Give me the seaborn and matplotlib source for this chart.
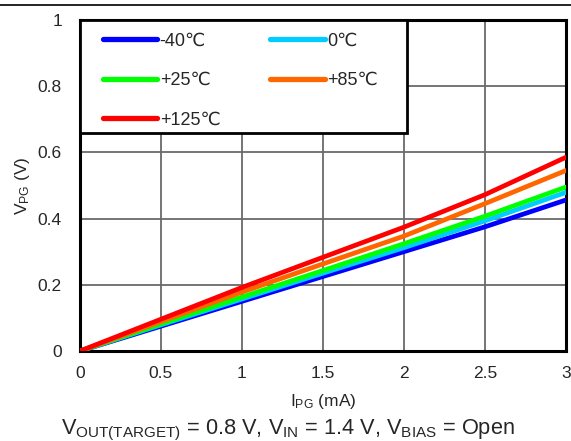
import seaborn as sns
import matplotlib.pyplot as plt
import pandas as pd
from matplotlib.lines import Line2D
from matplotlib.patches import Rectangle


#%% Data

I_PG = [0, 0.5, 1, 1.5, 2, 2.5, 3]

V_m40  = [0, 0.075, 0.150, 0.225, 0.300, 0.375, 0.456]
V_0    = [0, 0.079, 0.157, 0.235, 0.312, 0.393, 0.479]
V_25   = [0, 0.082, 0.163, 0.243, 0.324, 0.407, 0.495]
V_85   = [0, 0.089, 0.178, 0.263, 0.347, 0.445, 0.545]
V_125  = [0, 0.096, 0.192, 0.283, 0.374, 0.472, 0.585]

Labels = ["-40℃", "0℃", "+25℃", "+85℃", "+125℃"]
Colors = ["#0000FF", "#00CCFF", "#00FF00", "#FF6600", "#FF0000"]

xticks = [0, 0.5, 1, 1.5, 2, 2.5, 3]
xticklabels = ["0", "0.5", "1", "1.5", "2", "2.5", "3"]
yticks = [0, 0.2, 0.4, 0.6, 0.8, 1]
yticklabels = ["0", "0.2", "0.4", "0.6", "0.8", "1"]


#%% Build table

rows = []
for label, values in zip(Labels, [V_m40, V_0, V_25, V_85, V_125]):
    for x, y in zip(I_PG, values):
        rows.append({"I": x, "V": y, "T": label})
df = pd.DataFrame(rows)


#%% Style

sns.set_style("white")
plt.rcParams['font.family'] = ['Liberation Sans', 'DejaVu Sans']
plt.rcParams['mathtext.fontset'] = 'custom'
plt.rcParams['mathtext.rm'] = 'Liberation Sans'
plt.rcParams['mathtext.it'] = 'Liberation Sans'

FontSize_Tick = 12.5
FontSize_Label = 12.5
FontSize_Legend = 13
FontSize_Caption = 15.7
Grid_Color = "#6a6a6a"
Line_Width = 3.4


Fig = plt.figure(figsize=[5.71, 4.41], dpi=100)
ax = Fig.add_axes([0.140, 0.204, 0.851, 0.751])

sns.lineplot(data=df, x="I", y="V", hue="T", hue_order=Labels,
             palette=Colors, linewidth=Line_Width, ax=ax, legend=False,
             solid_capstyle="round", zorder=3)

# axes
ax.set_xlim(0, 3)
ax.set_ylim(0, 1)
ax.set_xticks(xticks)
ax.set_xticklabels(xticklabels, fontsize=FontSize_Tick)
ax.set_yticks(yticks)
ax.set_yticklabels(yticklabels, fontsize=FontSize_Tick)
ax.tick_params(axis="y", length=0, pad=13)
ax.tick_params(axis="x", length=0, pad=11)

ax.grid(True, color=Grid_Color, linewidth=1.3)
ax.set_axisbelow(True)
for s in ax.spines.values():
    s.set_visible(True)
    s.set_color("black")
    s.set_linewidth(2.2)

ax.set_xlabel(r"$\mathregular{I_{PG}}$ (mA)", fontsize=FontSize_Label, labelpad=8)
ax.set_ylabel(r"$\mathregular{V_{PG}}$ (V)", fontsize=FontSize_Label, labelpad=4)

# legend box (white, black edge) drawn separately so padding matches
box = Rectangle((0, 1 - 0.341), 0.673, 0.341, transform=ax.transAxes,
                facecolor="white", edgecolor="black", linewidth=2.0, zorder=4)
ax.add_patch(box)

# legend, filled row by row like the reference
order = [0, 2, 4, 1, 3]
handles = [Line2D([], [], color=Colors[i], linewidth=3.8, solid_capstyle="round") for i in order]
labels = [Labels[i] for i in order]
leg = ax.legend(handles, labels, loc="upper left", bbox_to_anchor=(0.047, 0.962),
                ncol=2, fontsize=FontSize_Legend, frameon=False,
                handlelength=3.0, handletextpad=0.15, columnspacing=2.77,
                labelspacing=1.25, borderpad=0.0, borderaxespad=0.0)
leg.set_zorder(5)

# caption
Fig.text(0.505, 0.025,
         r"$\mathregular{V_{OUT(TARGET)}}$ = 0.8 V, $\mathregular{V_{IN}}$ = 1.4 V, $\mathregular{V_{BIAS}}$ = Open",
         ha="center", va="center", fontsize=FontSize_Caption)

# top rule
Fig.add_artist(Line2D([0, 1], [0.988, 0.988], color="black", linewidth=1.2,
                      transform=Fig.transFigure))

plt.savefig("out.png", dpi=100)
